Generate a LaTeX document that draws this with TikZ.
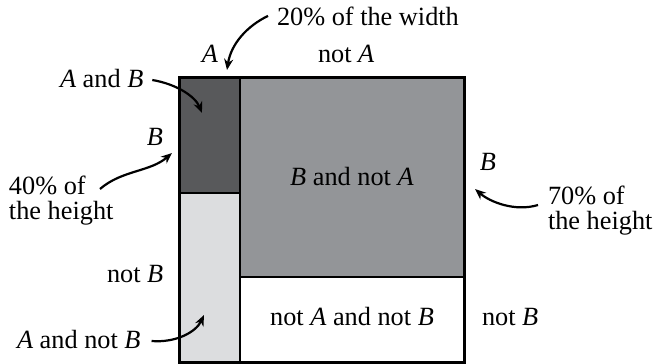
\documentclass[tikz,border=0pt]{standalone}
\usepackage{fontspec}
\setmainfont{Liberation Serif}
\usetikzlibrary{arrows.meta}
\definecolor{dk}{HTML}{58595B}
\definecolor{md}{HTML}{939598}
\definecolor{lt}{HTML}{DCDDDF}
\begin{document}
\begin{tikzpicture}[x=1pt,y=-1pt,
  lbl/.style={font=\fontsize{26.3}{25}\selectfont, inner sep=0pt, outer sep=0pt},
  region/.style={draw=black, line width=2pt, inner sep=0pt, outer sep=0pt, anchor=north west},
  callout/.style={line width=2.2pt, -{Stealth[length=11pt,width=9pt]}}]
\useasboundingbox (0,0) rectangle (654,364);
% regions
\node[region, fill=dk, minimum width=61pt, minimum height=116pt] (ab) at (179,77) {};
\node[region, fill=lt, minimum width=61pt, minimum height=169pt] (anb) at (179,193) {};
\node[region, fill=md, minimum width=224pt, minimum height=200pt] (bna) at (240,77) {};
\node[region, fill=white, minimum width=224pt, minimum height=85pt] (nanb) at (240,277) {};
\draw[line width=3pt] (ab.north west) rectangle (nanb.south east);
% inner labels
\node[lbl] (tbna) at (bna.center) {\textit{B} and not \textit{A}};
\node[lbl, anchor=base] (tnanb) at (352,325) {not \textit{A} and not \textit{B}};
% outer labels
\node[lbl, anchor=base west] (t20) at (277,25) {20\% of the width};
\node[lbl, anchor=base] (tA) at (210,62) {\textit{A}};
\node[lbl, anchor=base west] (tnA) at (318,62) {not \textit{A}};
\node[lbl, anchor=base west] (tAB) at (60,87) {\textit{A} and \textit{B}};
\node[lbl, anchor=base] (tB1) at (155,145) {\textit{B}};
\node[lbl, anchor=base west, align=left] (t40) at (9,219) {40\% of\\the height};
\node[lbl, anchor=base west] (tnB1) at (107,282) {not \textit{B}};
\node[lbl, anchor=base west] (tAnB) at (17,348) {\textit{A} and not \textit{B}};
\node[lbl, anchor=base] (tB2) at (488,170) {\textit{B}};
\node[lbl, anchor=base west, align=left] (t70) at (548,229) {70\% of\\the height};
\node[lbl, anchor=base west] (tnB2) at (482,325) {not \textit{B}};
% arrow ends
\coordinate (e20) at (227,70);
\coordinate (eAB) at (202,113);
\coordinate (s40) at (100,189);
\coordinate (e40) at (172,153);
\coordinate (eAnB) at (204,315);
\coordinate (s70) at (538,205);
\coordinate (e70) at (475,189);
% callouts
\draw[callout] ([xshift=-9pt]t20.west) .. controls (247,26) and (231,44) .. (e20);
\draw[callout] ([xshift=9pt,yshift=-2pt]tAB.east) .. controls (176,84) and (195,96) .. (eAB);
\draw[callout] (s40) .. controls (122,170) and (150,172) .. (e40);
\draw[callout] ([xshift=11pt,yshift=-2pt]tAnB.east) .. controls (176,343) and (196,332) .. (eAnB);
\draw[callout] (s70) .. controls (515,212) and (490,202) .. (e70);
\end{tikzpicture}
\end{document}
